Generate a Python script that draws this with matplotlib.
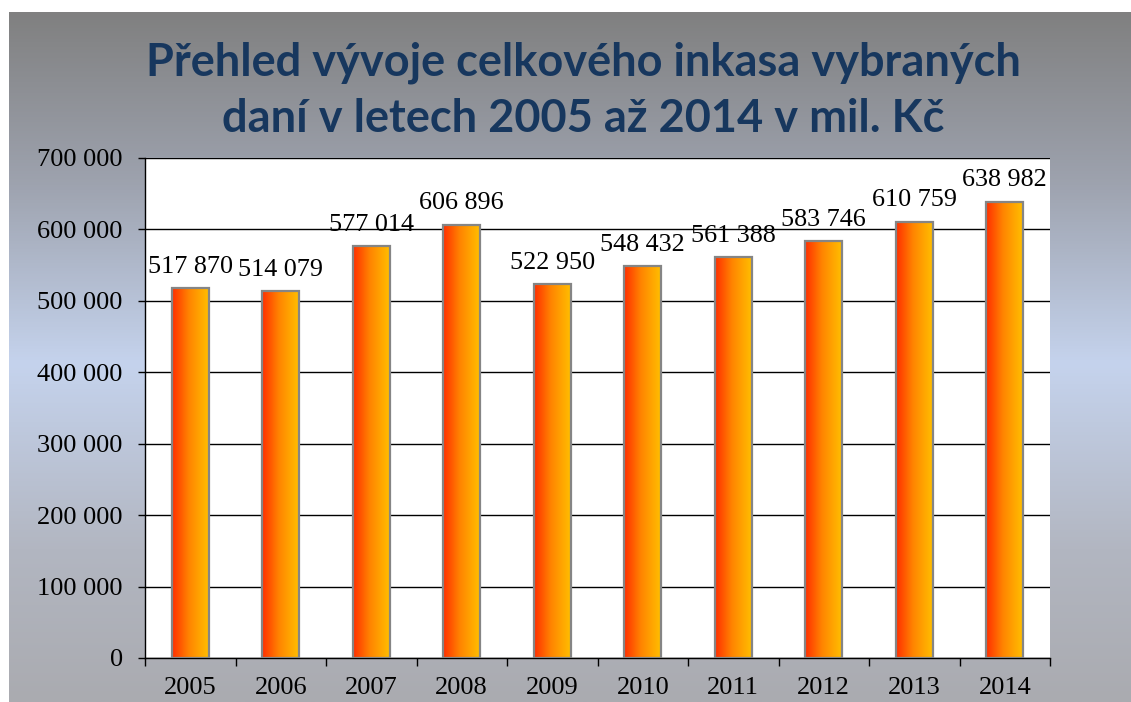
import numpy as np
import matplotlib
matplotlib.use("Agg")
import matplotlib.pyplot as plt
from matplotlib.colors import LinearSegmentedColormap
from matplotlib.ticker import FuncFormatter, MultipleLocator

years = ["2005", "2006", "2007", "2008", "2009", "2010", "2011", "2012", "2013", "2014"]
values = [517870, 514079, 577014, 606896, 522950, 548432, 561388, 583746, 610759, 638982]
title_lines = ["Přehled vývoje celkového inkasa vybraných",
               "daní v letech 2005 až 2014 v mil. Kč"]

W, H = 1131, 702
fig = plt.figure(figsize=(W / 100, H / 100), dpi=100)
fig.patch.set_facecolor("white")

# background gradient panel
bg = fig.add_axes([9 / W, 0, 1 - 9 / W, (H - 12) / H], zorder=-5)
bg_cmap = LinearSegmentedColormap.from_list(
    "bg", [(0.0, (128/255, 128/255, 128/255)),
           (0.25, (158/255, 163/255, 175/255)),
           (0.51, (197/255, 211/255, 237/255)),
           (0.78, (178/255, 182/255, 193/255)),
           (1.0, (170/255, 171/255, 176/255))])
grad = np.linspace(0, 1, 512).reshape(-1, 1)
bg.imshow(grad, aspect="auto", cmap=bg_cmap, extent=[0, 1, 0, 1], origin="upper")
bg.set_axis_off()

ax = fig.add_axes([145 / W, 44 / H, (1050 - 145) / W, (658 - 158) / H])
ax.set_facecolor("white")

x = np.arange(len(years))
bars = ax.bar(x, values, width=0.41, facecolor="none", edgecolor="#858585",
              linewidth=1.6, zorder=4)

bar_cmap = LinearSegmentedColormap.from_list(
    "bar", [(0.0, (1.0, 0.18, 0.0)), (0.45, (1.0, 0.52, 0.0)), (1.0, (1.0, 0.76, 0.0))])
hgrad = np.linspace(0, 1, 256).reshape(1, -1)
for b in bars:
    bx, bw, bh = b.get_x(), b.get_width(), b.get_height()
    im = ax.imshow(hgrad, aspect="auto", cmap=bar_cmap,
                   extent=[bx, bx + bw, 0, bh], zorder=3)
    im.set_clip_path(b)

ax.set_xlim(-0.5, len(years) - 0.5)
ax.set_ylim(0, 700000)
ax.yaxis.set_major_locator(MultipleLocator(100000))
ax.yaxis.set_major_formatter(FuncFormatter(lambda v, p: f"{int(v):,}".replace(",", " ")))
ax.grid(axis="y", color="black", linewidth=1.0, zorder=1)
ax.set_axisbelow(True)

ax.set_xticks(x)
ax.set_xticklabels(years)
ax.set_xticks(np.arange(-0.5, len(years)), minor=True)
ax.tick_params(axis="x", which="major", length=0, pad=14)
ax.tick_params(axis="x", which="minor", length=6, width=1, direction="out", color="black")
ax.tick_params(axis="y", length=5, width=1, direction="out", pad=11)

serif = ["Liberation Serif", "DejaVu Serif"]
for lab in ax.get_xticklabels() + ax.get_yticklabels():
    lab.set_fontfamily(serif)
    lab.set_fontsize(19)
    lab.set_color("black")

for s in ["top", "right"]:
    ax.spines[s].set_visible(False)
for s in ["left", "bottom"]:
    ax.spines[s].set_color("black")
    ax.spines[s].set_linewidth(1.0)

for xi, v in zip(x, values):
    ax.annotate(f"{v:,}".replace(",", " "), (xi, v), xytext=(0, 11),
                textcoords="offset points", ha="center", va="baseline",
                fontsize=18.8, family=serif, color="black", zorder=6)

for line, base in zip(title_lines, [75, 132]):
    fig.text(583 / W, 1 - base / H, line, ha="center", va="baseline",
             fontsize=32.5, fontweight="bold", family=["Lato", "DejaVu Sans"],
             color="#17375E")

fig.savefig("out.png", dpi=100)
